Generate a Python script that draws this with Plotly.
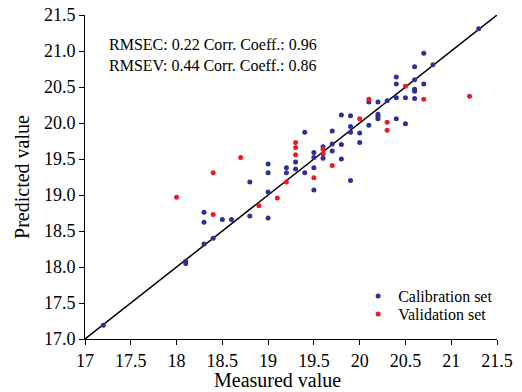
import plotly.graph_objects as go

cal_x = [17.2, 18.1, 18.1, 18.3, 18.3, 18.3, 18.4, 18.5, 18.6, 18.8, 18.8,
         19.0, 19.0, 19.0, 19.0, 19.2, 19.2, 19.3, 19.3, 19.4, 19.4,
         19.5, 19.5, 19.5, 19.5, 19.6, 19.6, 19.7, 19.7, 19.7,
         19.8, 19.8, 19.8, 19.9, 19.9, 19.9, 19.9, 20.0, 20.0,
         20.1, 20.1, 20.2, 20.2, 20.2, 20.2, 20.3, 20.4, 20.4, 20.4, 20.4,
         20.5, 20.5, 20.6, 20.6, 20.6, 20.6, 20.6, 20.7, 20.7, 20.8, 21.3]
cal_y = [17.19, 18.08, 18.05, 18.76, 18.62, 18.32, 18.40, 18.66, 18.66, 18.71, 19.18,
         19.43, 19.31, 19.04, 18.68, 19.38, 19.31, 19.46, 19.36, 19.87, 19.31,
         19.59, 19.52, 19.38, 19.07, 19.67, 19.51, 19.89, 19.71, 19.61,
         20.11, 19.70, 19.50, 20.10, 19.95, 19.87, 19.20, 19.86, 19.73,
         20.29, 19.97, 20.29, 20.12, 20.09, 20.06, 20.31, 20.64, 20.54, 20.35, 20.06,
         20.35, 19.99, 20.78, 20.60, 20.47, 20.44, 20.34, 20.97, 20.54, 20.81, 21.31]

val_x = [18.0, 18.4, 18.4, 18.7, 18.9, 19.1, 19.2, 19.3, 19.3, 19.3, 19.5,
         19.6, 19.6, 19.7, 20.0, 20.1, 20.3, 20.3, 20.5, 20.7, 21.2]
val_y = [18.97, 19.31, 18.73, 19.52, 18.85, 18.96, 19.18, 19.73, 19.66, 19.56, 19.24,
         19.64, 19.57, 19.41, 20.06, 20.33, 20.01, 19.90, 20.51, 20.33, 20.37]

line_x = [17.0, 21.5]
line_y = [17.0, 21.5]

x_ticks = [17, 17.5, 18, 18.5, 19, 19.5, 20, 20.5, 21, 21.5]
y_ticks = [17.0, 17.5, 18.0, 18.5, 19.0, 19.5, 20.0, 20.5, 21.0, 21.5]

stats_lines = ["RMSEC: 0.22 Corr. Coeff.: 0.96", "RMSEV: 0.44 Corr. Coeff.: 0.86"]
x_title = "Measured value"
y_title = "Predicted value"

FONT = "'Liberation Serif', 'Times New Roman', serif"

fig = go.Figure()
fig.add_trace(go.Scatter(x=line_x, y=line_y, mode="lines",
                         line=dict(color="black", width=1.5), showlegend=False,
                         hoverinfo="skip"))
fig.add_trace(go.Scatter(x=cal_x, y=cal_y, mode="markers", name="Calibration set",
                         marker=dict(color="#2e3192", size=5), legend="legend"))
fig.add_trace(go.Scatter(x=val_x, y=val_y, mode="markers", name="Validation set",
                         marker=dict(color="#ed1c24", size=5), legend="legend2"))

fig.add_annotation(x=0.053, y=0.94, xref="paper", yref="paper", xanchor="left",
                   yanchor="top", align="left", showarrow=False,
                   text="<br>".join(stats_lines),
                   font=dict(family=FONT, size=16, color="black"))
fig.add_annotation(x=0.468, y=-0.1265, xref="paper", yref="paper", xanchor="center",
                   yanchor="middle", showarrow=False, text=x_title, borderpad=0,
                   font=dict(family=FONT, size=20, color="black"))
fig.add_annotation(x=-0.153, y=0.50, xref="paper", yref="paper", xanchor="center",
                   yanchor="middle", showarrow=False, text=y_title, textangle=-90,
                   font=dict(family=FONT, size=20, color="black"))

leg_common = dict(xanchor="left", yanchor="middle", bgcolor="rgba(0,0,0,0)",
                  font=dict(family=FONT, size=16, color="black"), itemwidth=30)

fig.update_layout(
    width=522, height=392,
    margin=dict(l=85, r=25, t=15, b=53),
    paper_bgcolor="white", plot_bgcolor="white",
    font=dict(family=FONT, color="black"),
    showlegend=True,
    legend=dict(x=0.663, y=0.1327, **leg_common),
    legend2=dict(x=0.663, y=0.0772, **leg_common),
    xaxis=dict(range=[17, 21.5], tickvals=x_ticks, automargin=False,
               ticktext=[f"{v:g}" for v in x_ticks],
               showline=True, linecolor="black", linewidth=1,
               ticks="outside", ticklen=5, tickcolor="black",
               showgrid=False, zeroline=False,
               tickfont=dict(family=FONT, size=18, color="black")),
    yaxis=dict(range=[17, 21.5], tickvals=y_ticks, automargin=False,
               ticktext=[f"{v:.1f}" for v in y_ticks],
               showline=True, linecolor="black", linewidth=1,
               ticks="outside", ticklen=5, tickcolor="black",
               showgrid=False, zeroline=False,
               tickfont=dict(family=FONT, size=18, color="black")),
)

fig.write_html("out.html")
